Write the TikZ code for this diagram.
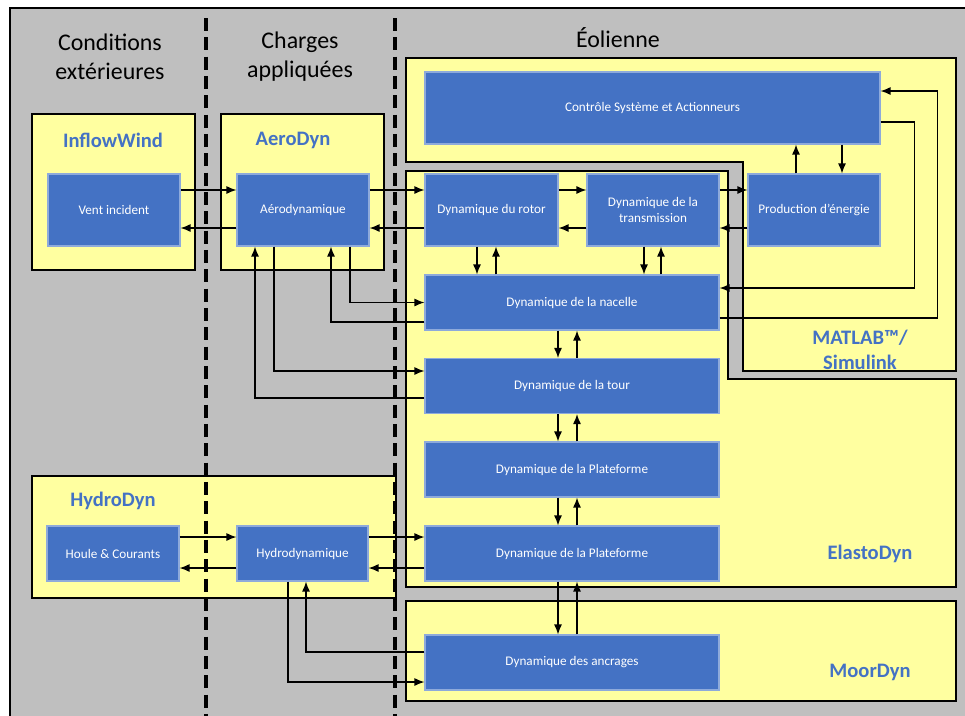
\documentclass[tikz,border=0pt]{standalone}
\usepackage{fontspec}
\setmainfont{Carlito}
\usepackage{tikz}
\usetikzlibrary{calc,arrows.meta}
\definecolor{bggrey}{HTML}{BFBFBF}
\definecolor{modyellow}{HTML}{FFFFA0}
\definecolor{blkblue}{HTML}{4472C4}
\definecolor{blkedge}{HTML}{8EAADB}
\tikzset{
  module/.style={fill=modyellow,draw=black,line width=1.3pt},
  modname/.style={text=blkblue,font=\fontsize{11.7}{14}\selectfont\bfseries,align=center},
  head/.style={font=\fontsize{13.6}{16.4}\selectfont,align=center},
  blk/.style={rectangle,fill=blkblue,draw=blkedge,line width=0.6pt,text=white,
    font=\fontsize{7.5}{9.5}\selectfont,align=center,inner sep=0pt},
  blksq/.style={blk,minimum width=26.4mm,minimum height=14.4mm},
  blkwide/.style={blk,minimum width=58.8mm,minimum height=11mm},
  flow/.style={line width=0.75pt,-{Latex[length=2mm,width=1.6mm]}},
  sep/.style={line width=2.3pt,dash pattern=on 7.4pt off 3.6pt}
}

\begin{document}
\begin{tikzpicture}[x=0.2mm,y=-0.2mm]
% 1 unit = 1 px of the 965x715 frame, y going down
\clip (0,0) rectangle (965,715);
\fill[bggrey] (10,8) rectangle (980,730);
\draw[line width=0.9pt] (980,8) -- (10,8) -- (10,730);

% modules
\draw[module] (32,114) rectangle (195,270);
\draw[module] (221,114) rectangle (384,270);
\draw[module] (406,58) -- (956,58) -- (956,371) -- (743,371) -- (743,162) -- (406,162) -- cycle;
\draw[module] (406,171) -- (728,171) -- (728,379) -- (956,379) -- (956,587) -- (406,587) -- cycle;
\draw[module] (406,601) rectangle (956,701);
\draw[module] (32,476) rectangle (396,598);

\node[head] (condext) at (110,57) {Conditions\\extérieures};
\node[head] (charges) at (300,57) {Charges\\appliquées};
\node[head] (eolienne) at (618,38) {Éolienne};

\node[modname] (inflowname) at (113,140) {InflowWind};
\node[modname] (aeroname) at (293,140) {AeroDyn};
\node[modname] (hydroname) at (113,501) {HydroDyn};
\node[modname] (matlabname) at (860,350) {MATLAB™/\\Simulink};
\node[modname] (elastoname) at (870,554) {ElastoDyn};
\node[modname] (moorname) at (870,672) {MoorDyn};

% blocks
\node[blksq] (vent) at (114,210) {Vent incident};
\node[blksq] (aero) at (303,210) {Aérodynamique};
\node[blk,minimum width=91mm,minimum height=14.4mm] (ctrl) at (652.5,108) {Contrôle Système et Actionneurs};
\node[blksq,minimum width=26.6mm] (rotor) at (491.5,210) {Dynamique du rotor};
\node[blksq] (trans) at (653,210) {Dynamique de la\\transmission};
\node[blksq] (prod) at (814,210) {Production d’énergie};
\node[blkwide] (nacelle) at (572,302.5) {Dynamique de la nacelle};
\node[blkwide] (tour) at (572,386) {Dynamique de la tour};
\node[blkwide] (platA) at (572,469.5) {Dynamique de la Plateforme};
\node[blkwide] (platB) at (572,553.5) {Dynamique de la Plateforme};
\node[blkwide] (ancr) at (572,662.5) {Dynamique des ancrages};
\node[blk,minimum width=26.4mm,minimum height=11mm] (houle) at (113,553.5) {Houle \& Courants};
\node[blk,minimum width=26.2mm,minimum height=11mm] (hydro) at (302.5,553.5) {Hydrodynamique};

% horizontal exchanges
\draw[flow] ([yshift=4mm]vent.east) -- ([yshift=4mm]aero.west);
\draw[flow] ([yshift=-3.6mm]aero.west) -- ([yshift=-3.6mm]vent.east);
\draw[flow] ([yshift=4mm]aero.east) -- ([yshift=4mm]rotor.west);
\draw[flow] ([yshift=-3.6mm]rotor.west) -- ([yshift=-3.6mm]aero.east);
\draw[flow] ([yshift=4mm]rotor.east) -- ([yshift=4mm]trans.west);
\draw[flow] ([yshift=-3.6mm]trans.west) -- ([yshift=-3.6mm]rotor.east);
\draw[flow] ([yshift=4mm]trans.east) -- ([yshift=4mm]prod.west);
\draw[flow] ([yshift=-3.6mm]prod.west) -- ([yshift=-3.6mm]trans.east);
\draw[flow] ([yshift=3.3mm]houle.east) -- ([yshift=3.3mm]hydro.west);
\draw[flow] ([yshift=-2.9mm]hydro.west) -- ([yshift=-2.9mm]houle.east);
\draw[flow] ([yshift=3.3mm]hydro.east) -- ([yshift=3.3mm]platB.west);
\draw[flow] ([yshift=-2.9mm]platB.west) -- ([yshift=-2.9mm]hydro.east);

% vertical exchanges
\draw[flow] ([xshift=-3.6mm]prod.north) -- ([xshift=-3.6mm]prod.north |- ctrl.south);
\draw[flow] ([xshift=5.6mm]prod.north |- ctrl.south) -- ([xshift=5.6mm]prod.north);
\draw[flow] ([xshift=-2.9mm]rotor.south) -- ([xshift=-2.9mm]rotor.south |- nacelle.north);
\draw[flow] ([xshift=0.9mm]rotor.south |- nacelle.north) -- ([xshift=0.9mm]rotor.south);
\draw[flow] ([xshift=-1.8mm]trans.south) -- ([xshift=-1.8mm]trans.south |- nacelle.north);
\draw[flow] ([xshift=1.6mm]trans.south |- nacelle.north) -- ([xshift=1.6mm]trans.south);
\draw[flow] ([xshift=-2.8mm]nacelle.south) -- ([xshift=-2.8mm]tour.north);
\draw[flow] ([xshift=1mm]tour.north) -- ([xshift=1mm]nacelle.south);
\draw[flow] ([xshift=-2.8mm]tour.south) -- ([xshift=-2.8mm]platA.north);
\draw[flow] ([xshift=1mm]platA.north) -- ([xshift=1mm]tour.south);
\draw[flow] ([xshift=-2.8mm]platA.south) -- ([xshift=-2.8mm]platB.north);
\draw[flow] ([xshift=1mm]platB.north) -- ([xshift=1mm]platA.south);
\draw[flow] ([xshift=-2.8mm]platB.south) -- ([xshift=-2.8mm]ancr.north);
\draw[flow] ([xshift=1mm]ancr.north) -- ([xshift=1mm]platB.south);

% loops
\draw[flow] ([yshift=-2.8mm]ctrl.east) -- ++(34,0) |- ([yshift=2.9mm]nacelle.east);
\draw[flow] ([yshift=-3.1mm]nacelle.east) -- ++(218,0) |- ([yshift=3.4mm]ctrl.east);
\draw[flow] ([xshift=9.4mm]aero.south) |- (nacelle.west);
\draw[flow] ([yshift=-3.9mm]nacelle.west) -| ([xshift=5.6mm]aero.south);
\draw[flow] ([xshift=-5.8mm]aero.south) |- ([yshift=3mm]tour.west);
\draw[flow] ([yshift=-2.4mm]tour.west) -| ([xshift=-9.6mm]aero.south);
\draw[flow] ([xshift=-2.9mm]hydro.south) |- ([yshift=-3.9mm]ancr.west);
\draw[flow] ([yshift=2.1mm]ancr.west) -| ([xshift=0.7mm]hydro.south);

% separators
\draw[sep] (206,18) -- (206,720);
\draw[sep] (395,18) -- (395,720);
\end{tikzpicture}
\end{document}
